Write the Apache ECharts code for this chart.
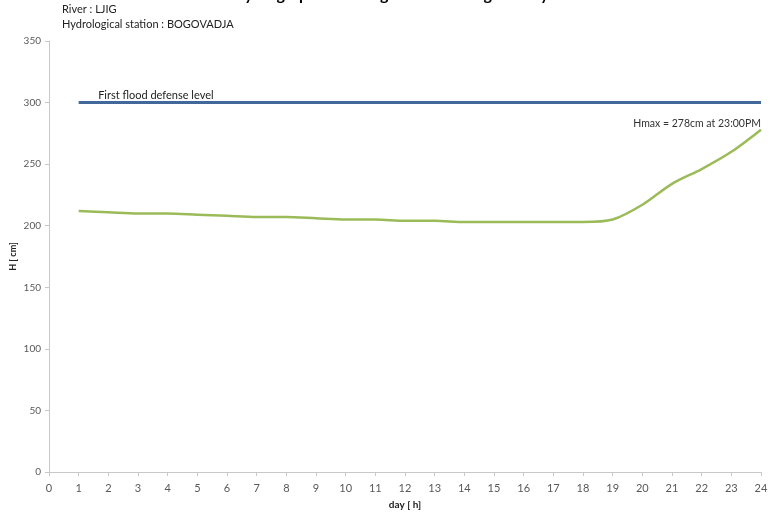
<!DOCTYPE html>
<html>
<head>
<meta charset="utf-8">
<script src="https://cdn.jsdelivr.net/npm/echarts@6/dist/echarts.min.js"></script>
<style>html,body{margin:0;padding:0;background:#fff}#c{width:781px;height:512px}</style>
</head>
<body>
<div id="c"></div>
<script>
const hours = [1,2,3,4,5,6,7,8,9,10,11,12,13,14,15,16,17,18,19,20,21,22,23,24];
const waterLevel = [212,211,210,210,209,208,207,207,206,205,205,204,204,203,203,203,203,203,205,217,234,246,260,278];
const floodLevel = 300;
const floodRange = [1, 24];
const titleText = 'Hydrograph of the high water during the day';
const riverText = 'River : LJIG';
const stationText = 'Hydrological station : BOGOVADJA';
const floodLabel = 'First flood defense level';
const hmaxLabel = 'Hmax = 278cm at 23:00PM';

const FONT = 'Lato';
const chart = echarts.init(document.getElementById('c'), null, {renderer:'canvas'});
const greenData = hours.map((h,i)=>{
  const item = {value:[h, waterLevel[i]]};
  if (i === hours.length-1) {
    item.label = {show:true, formatter: hmaxLabel, position:'top', align:'right', distance:3, offset:[0,3],
      fontFamily:FONT, fontSize:10.5, color:'#333'};
  }
  return item;
});
chart.setOption({
  animation:false,
  textStyle:{fontFamily:FONT},
  graphic:[
    {type:'text', left:'center', top:-13, style:{text:titleText, font:'bold 16px '+FONT, fill:'#000'}},
    {type:'text', left:62, top:4, style:{text:riverText, font:'11px '+FONT, fill:'#222'}},
    {type:'text', left:62, top:19, style:{text:stationText, font:'11px '+FONT, fill:'#222'}}
  ],
  grid:{left:49, right:20, top:41, bottom:40, containLabel:false, outerBoundsMode:'none'},
  xAxis:{type:'value', min:0, max:24, interval:1,
    name:'day [ h]', nameLocation:'middle', nameGap:28, nameMoveOverlap:false,
    nameTextStyle:{fontFamily:FONT, fontSize:10, fontWeight:'bold', color:'#222'},
    axisLine:{show:true, lineStyle:{color:'#c8c8c8', width:1}},
    axisTick:{show:true, length:4, lineStyle:{color:'#c8c8c8'}},
    axisLabel:{fontFamily:FONT, fontSize:11, color:'#595959', margin:11},
    splitLine:{show:false}},
  yAxis:{type:'value', min:0, max:350, interval:50,
    name:'H [ cm]', nameLocation:'middle', nameGap:31, nameRotate:90, nameMoveOverlap:false,
    nameTextStyle:{fontFamily:FONT, fontSize:9, fontWeight:'bold', color:'#222'},
    axisLine:{show:true, lineStyle:{color:'#c8c8c8', width:1}},
    axisTick:{show:true, length:4, lineStyle:{color:'#c8c8c8'}},
    axisLabel:{fontFamily:FONT, fontSize:10, color:'#595959', margin:8},
    splitLine:{show:false}},
  series:[
    {type:'line', data:[
        {value:[floodRange[0], floodLevel], label:{show:true, formatter:floodLabel, position:'right', offset:[14,-7], fontFamily:FONT, fontSize:11, color:'#222'}},
        {value:[floodRange[1], floodLevel]}],
     symbol:'circle', symbolSize:1, itemStyle:{color:'rgba(0,0,0,0)'},
     lineStyle:{color:'#41679b', width:3}, z:2},
    {type:'line', data:greenData, smooth:0.3,
     symbol:'circle', symbolSize:1, itemStyle:{color:'rgba(0,0,0,0)'},
     lineStyle:{color:'#9bbb59', width:2.5}, z:3}
  ]
});
</script>
</body>
</html>
